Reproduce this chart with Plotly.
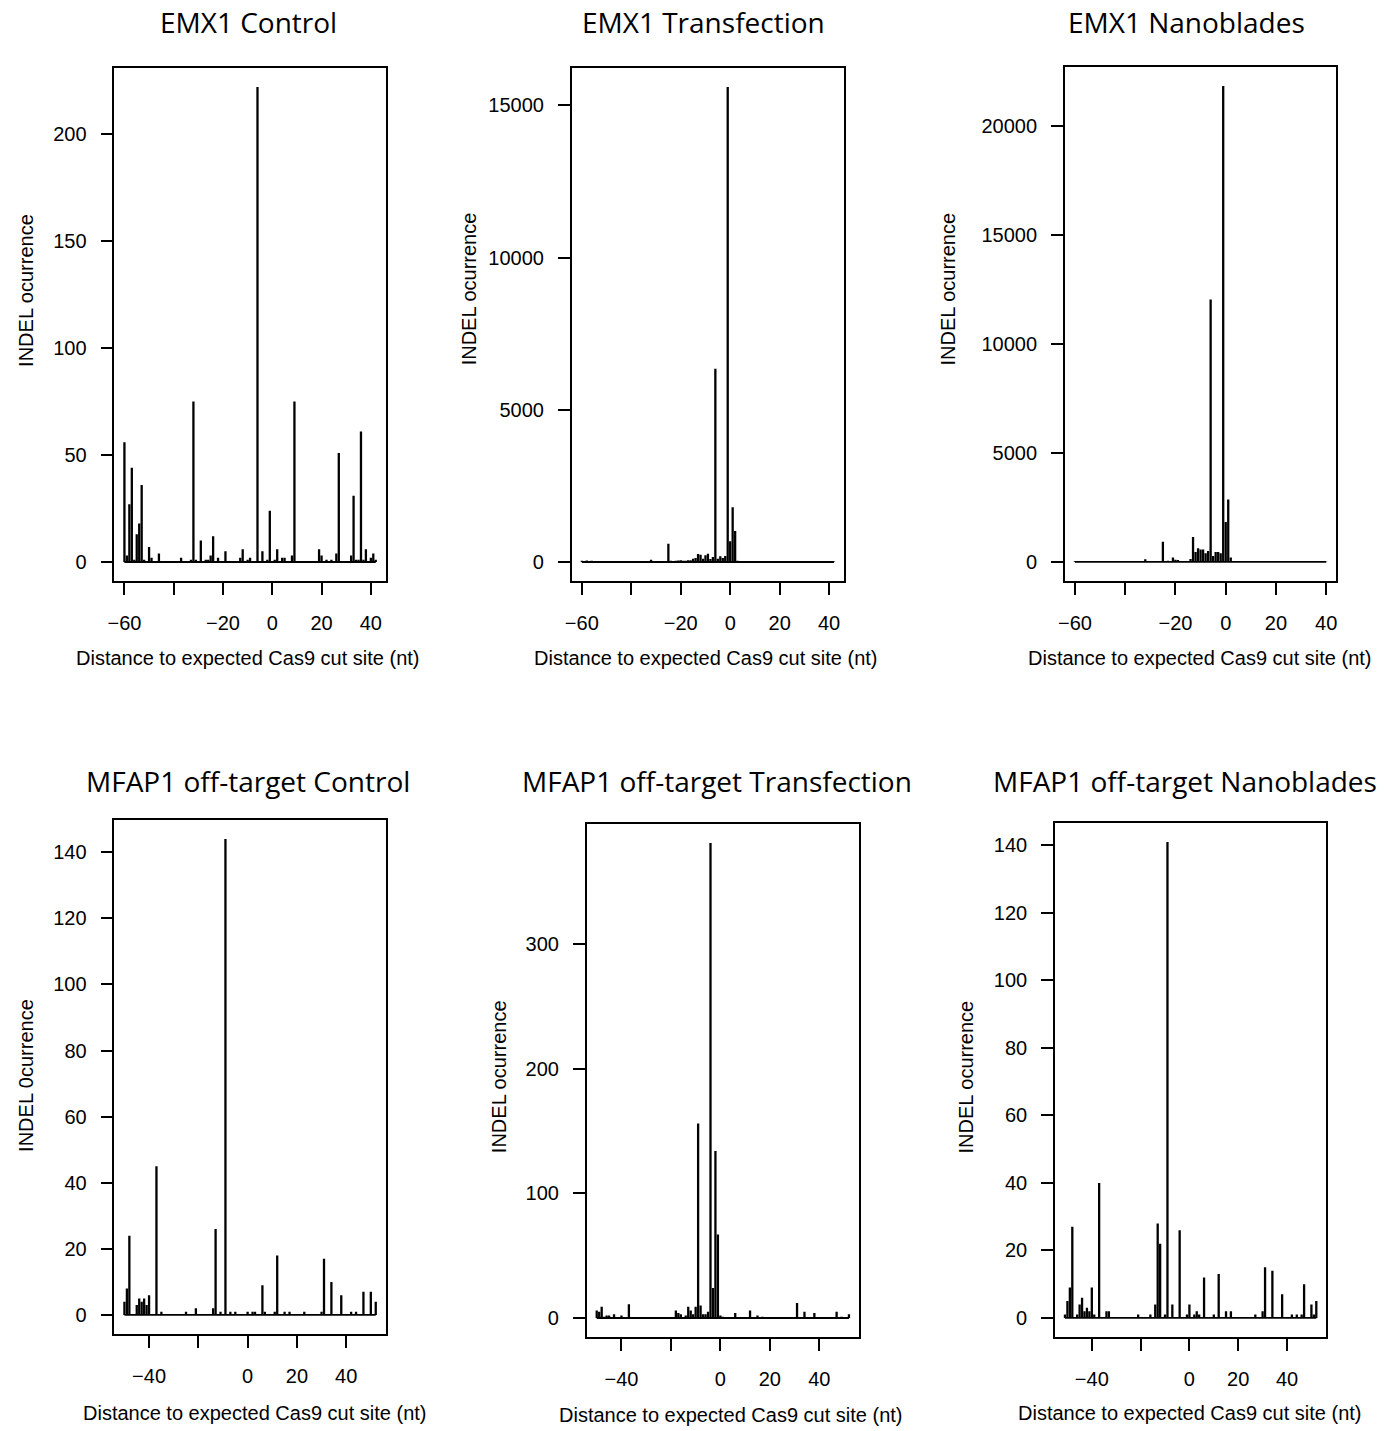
import plotly.graph_objects as go

W, H = 1389, 1431

# ---------------- data: INDEL counts by distance to the Cas9 cut site ----------------
emx1_ctrl_pos = [-60, -59, -58, -57, -56, -55, -54, -53, -52, -50, -49, -46, -37, -33, -32,
                 -31, -29, -27, -26, -25, -24, -22, -19, -13, -12, -10, -9, -6, -4, -2,
                 -1, 1, 2, 4, 5, 8, 9, 19, 20, 22, 24, 26, 27, 32, 33,
                 34, 35, 36, 37, 38, 40, 41, 42]
emx1_ctrl_cnt = [56, 3, 27, 44, 1, 13, 18, 36, 1, 7, 2, 4, 2, 1, 75,
                 1, 10, 1, 1, 3, 12, 2, 5, 2, 6, 1, 2, 222, 5, 1,
                 24, 1, 6, 2, 2, 3, 75, 6, 3, 1, 1, 4, 51, 3, 31,
                 1, 1, 61, 1, 6, 2, 4, 1]

emx1_trans_pos = [-60, -59, -58, -57, -56, -55, -54, -53, -51, -49, -47, -45, -43, -40, -38,
                  -36, -34, -32, -30, -28, -26, -25, -24, -23, -22, -21, -20, -19, -18, -17,
                  -16, -15, -14, -13, -12, -11, -10, -9, -8, -7, -6, -5, -4, -3, -2,
                  -1, 0, 1, 2, 3, 4, 5, 6, 8, 10, 12, 14, 16, 18, 20,
                  22, 24, 26, 28, 30, 32, 34, 36, 38, 40, 42]
emx1_trans_cnt = [40, 25, 50, 30, 40, 20, 30, 20, 15, 15, 10, 15, 10, 10, 15,
                  10, 15, 70, 15, 20, 20, 600, 40, 35, 40, 50, 55, 40, 45, 60,
                  55, 110, 130, 260, 240, 110, 220, 270, 100, 165, 6350, 110, 185, 130, 200,
                  15600, 680, 1800, 1020, 40, 25, 20, 30, 20, 15, 20, 15, 20, 10, 15,
                  10, 20, 15, 20, 25, 15, 20, 30, 15, 20, 15]

emx1_nano_pos = [-60, -59, -58, -57, -56, -55, -54, -52, -50, -48, -46, -44, -42, -40, -38,
                 -36, -34, -32, -30, -28, -26, -25, -24, -23, -22, -21, -20, -19, -18, -17,
                 -16, -15, -14, -13, -12, -11, -10, -9, -8, -7, -6, -5, -4, -3, -2,
                 -1, 0, 1, 2, 3, 4, 6, 8, 10, 14, 18, 22, 26, 30, 34,
                 38, 40]
emx1_nano_cnt = [30, 20, 45, 25, 20, 30, 20, 15, 15, 10, 10, 15, 10, 10, 15,
                 10, 20, 130, 20, 15, 20, 930, 30, 50, 30, 200, 100, 90, 30, 20,
                 30, 40, 135, 1150, 455, 635, 575, 575, 395, 500, 12050, 275, 455, 455, 395,
                 21850, 1830, 2870, 200, 20, 15, 10, 15, 10, 10, 15, 10, 10, 15, 10,
                 10, 10]

mfap1_ctrl_pos = [-50, -49, -48, -45, -44, -43, -42, -41, -40, -37, -35, -25, -21, -14, -13,
                  -11, -9, -7, -5, 0, 2, 3, 6, 7, 11, 12, 15, 17, 23, 30,
                  31, 34, 38, 42, 44, 47, 50, 52]
mfap1_ctrl_cnt = [4, 8, 24, 3, 5, 4, 5, 3, 6, 45, 1, 1, 2, 2, 26,
                  1, 144, 1, 1, 1, 1, 1, 9, 1, 1, 18, 1, 1, 1, 1,
                  17, 10, 6, 1, 1, 7, 7, 4]

mfap1_trans_pos = [-50, -49, -48, -47, -46, -45, -43, -40, -37, -18, -17, -16, -14, -13, -12,
                   -11, -10, -9, -8, -7, -6, -5, -4, -3, -2, -1, 0, 1, 6, 12,
                   15, 17, 31, 34, 38, 47, 49, 52]
mfap1_trans_cnt = [6, 5, 9, 1, 2, 2, 3, 2, 11, 6, 4, 3, 2, 9, 6,
                   3, 9, 156, 10, 3, 3, 5, 381, 24, 134, 67, 2, 1, 4, 6,
                   2, 1, 12, 5, 4, 5, 1, 3]

mfap1_nano_pos = [-51, -50, -49, -48, -46, -45, -44, -43, -42, -41, -40, -39, -37, -34, -33,
                  -21, -16, -14, -13, -12, -10, -9, -7, -4, -1, 0, 2, 3, 4, 6,
                  10, 12, 15, 17, 27, 30, 31, 34, 38, 42, 44, 46, 47, 50, 51,
                  52]
mfap1_nano_cnt = [1, 5, 9, 27, 1, 4, 6, 2, 3, 2, 9, 1, 40, 2, 2,
                  1, 1, 4, 28, 22, 1, 141, 4, 26, 1, 4, 1, 2, 1, 12,
                  1, 13, 2, 2, 1, 2, 15, 14, 7, 1, 1, 1, 10, 4, 1,
                  5]

titles = ["EMX1 Control", "EMX1 Transfection", "EMX1 Nanoblades",
          "MFAP1 off-target Control", "MFAP1 off-target Transfection", "MFAP1 off-target Nanoblades"]
y_titles = ["INDEL ocurrence", "INDEL ocurrence", "INDEL ocurrence",
            "INDEL 0currence", "INDEL ocurrence", "INDEL ocurrence"]
x_title = "Distance to expected Cas9 cut site (nt)"

x_ticks_top = [-60, -40, -20, 0, 20, 40]
x_labels_top = ["\u221260", "", "\u221220", "0", "20", "40"]
x_ticks_bottom = [-40, -20, 0, 20, 40]
x_labels_bottom = ["\u221240", "", "0", "20", "40"]

y_ticks = [
    [0, 50, 100, 150, 200],
    [0, 5000, 10000, 15000],
    [0, 5000, 10000, 15000, 20000],
    [0, 20, 40, 60, 80, 100, 120, 140],
    [0, 100, 200, 300],
    [0, 20, 40, 60, 80, 100, 120, 140],
]

series = [
    (emx1_ctrl_pos, emx1_ctrl_cnt),
    (emx1_trans_pos, emx1_trans_cnt),
    (emx1_nano_pos, emx1_nano_cnt),
    (mfap1_ctrl_pos, mfap1_ctrl_cnt),
    (mfap1_trans_pos, mfap1_trans_cnt),
    (mfap1_nano_pos, mfap1_nano_cnt),
]

# ---------------- layout geometry (pixels) ----------------
# plot boxes: left, right, top, bottom
boxes = [
    (108, 381, 68, 581),
    (568, 842, 68, 581),
    (1064, 1337, 67, 581),
    (108, 381, 820, 1334),
    (583, 857, 824, 1337),
    (1054, 1327, 823, 1337),
]
title_xy = [(243, 22), (701, 22), (1186, 22), (242, 781), (714, 781), (1185, 781)]
ytitle_xy = [(19, 290), (465, 289), (946, 289), (19, 1075), (495, 1077), (965, 1077)]
xtitle_xy = [(242, 658), (703, 658), (1200, 658), (249, 1413), (728, 1415), (1190, 1413)]

TICK_FONT = dict(family="Liberation Sans, Arial, Helvetica, sans-serif", size=20, color="black")
TITLE_FONT = dict(family="Open Sans, Noto Sans, sans-serif", size=28, color="black")


def px_x(p):
    return p / W


def px_y(p):
    return 1 - p / H


fig = go.Figure()
layout = dict(
    width=W, height=H,
    margin=dict(l=0, r=0, t=0, b=0),
    paper_bgcolor="white", plot_bgcolor="white",
    showlegend=False,
    annotations=[],
)

for i, ((pos, cnt), box) in enumerate(zip(series, boxes)):
    k = i + 1
    xa = "x" if k == 1 else f"x{k}"
    ya = "y" if k == 1 else f"y{k}"

    # vertical spikes from 0 to each count (type="h" style)
    sx, sy = [], []
    for p, c in zip(pos, cnt):
        sx += [p, p, None]
        sy += [0, c, None]
    xmin, xmax = min(pos), max(pos)
    full_x = list(range(xmin, xmax + 1))

    fig.add_trace(go.Scatter(x=full_x, y=[0] * len(full_x), mode="lines",
                             line=dict(color="black", width=1.8),
                             xaxis=xa, yaxis=ya, hoverinfo="skip"))
    fig.add_trace(go.Scatter(x=sx, y=sy, mode="lines",
                             line=dict(color="black", width=2.3),
                             xaxis=xa, yaxis=ya, hoverinfo="skip"))

    ymax = max(cnt)
    xpad = 0.04 * (xmax - xmin)
    ypad = 0.04 * ymax
    top_row = i < 3
    l, r, t, b = box

    axis_common = dict(
        showline=True, mirror=True, linecolor="black", linewidth=1.5,
        ticks="outside", ticklen=12, tickwidth=1.5, tickcolor="black",
        showgrid=False, zeroline=False, tickfont=TICK_FONT,
    )
    layout["xaxis" if k == 1 else f"xaxis{k}"] = dict(
        domain=[px_x(l), px_x(r)], anchor=ya,
        range=[xmin - xpad, xmax + xpad],
        tickmode="array",
        tickvals=x_ticks_top if top_row else x_ticks_bottom,
        ticktext=x_labels_top if top_row else x_labels_bottom,
        ticklabelstandoff=11,
        **axis_common,
    )
    layout["yaxis" if k == 1 else f"yaxis{k}"] = dict(
        domain=[px_y(b), px_y(t)], anchor=xa,
        range=[-ypad, ymax + ypad],
        tickmode="array",
        tickvals=y_ticks[i],
        ticktext=[str(v) for v in y_ticks[i]],
        ticklabelstandoff=10,
        **axis_common,
    )

    tx, ty = title_xy[i]
    layout["annotations"].append(dict(
        text=titles[i], x=px_x(tx), y=px_y(ty), xref="paper", yref="paper",
        xanchor="center", yanchor="middle", showarrow=False, font=TITLE_FONT))
    yx, yy = ytitle_xy[i]
    layout["annotations"].append(dict(
        text=y_titles[i], x=px_x(yx), y=px_y(yy), xref="paper", yref="paper",
        xanchor="center", yanchor="middle", textangle=-90, showarrow=False,
        font=TICK_FONT))
    xx, xy = xtitle_xy[i]
    layout["annotations"].append(dict(
        text=x_title, x=px_x(xx), y=px_y(xy), xref="paper", yref="paper",
        xanchor="center", yanchor="middle", showarrow=False, font=TICK_FONT))

fig.update_layout(**layout)
fig.write_html("out.html")
